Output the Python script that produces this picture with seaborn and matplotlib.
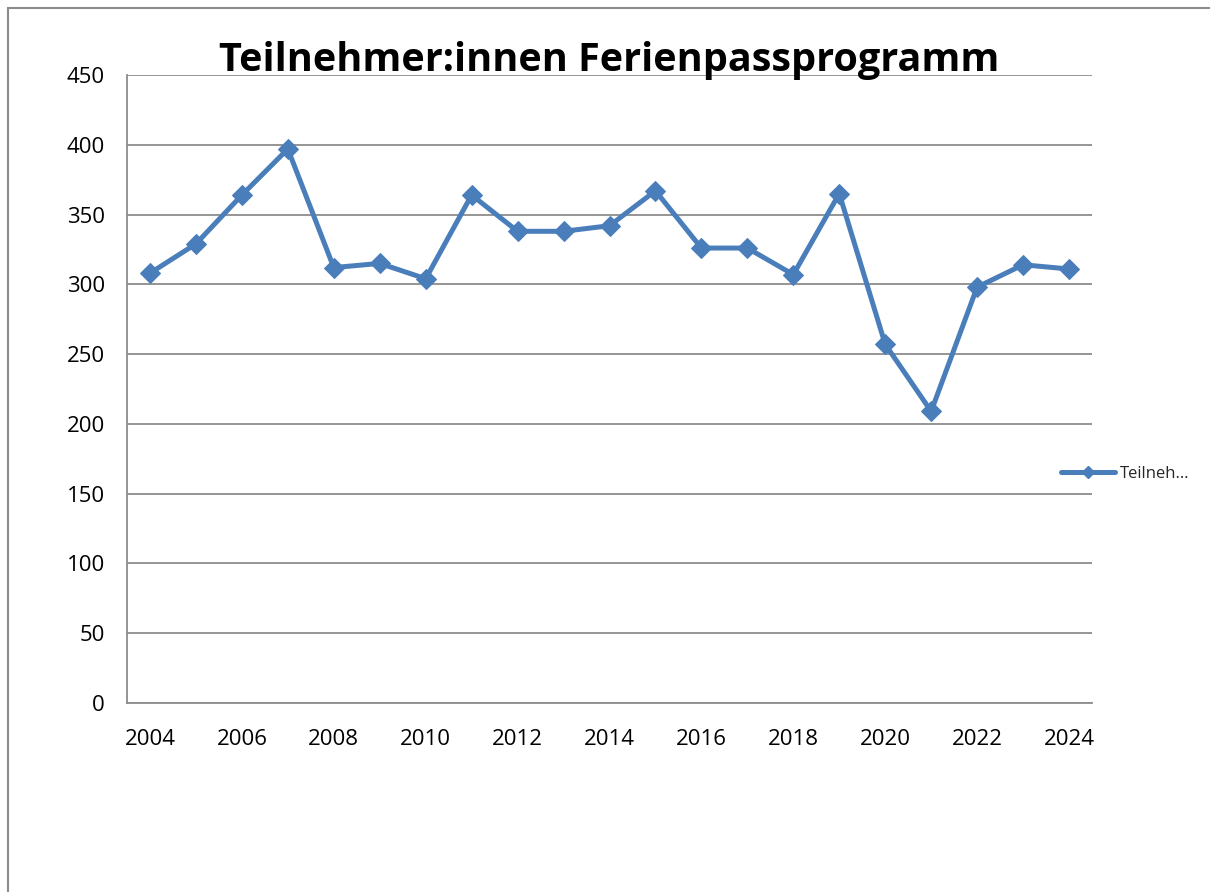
import matplotlib
matplotlib.use("Agg")
import matplotlib.pyplot as plt
import seaborn as sns
import pandas as pd
from matplotlib.lines import Line2D

years = list(range(2004, 2025))
participants = [308, 329, 364, 397, 312, 315, 304, 364, 338, 338, 342, 367,
                326, 326, 307, 365, 257, 209, 298, 314, 311]
series_name = "Teilnehmer:innen"
legend_label = "Teilneh…"
title = "Teilnehmer:innen Ferienpassprogramm"
x_ticks = list(range(2004, 2025, 2))
y_ticks = list(range(0, 451, 50))

df = pd.DataFrame({"Jahr": years, "Wert": participants})

sns.set_theme(style="white")
plt.rcParams["font.family"] = ["Open Sans", "DejaVu Sans"]

color = "#4A7EBB"
fig = plt.figure(figsize=(12.1, 8.92), dpi=100)
ax = fig.add_axes([127/1210, 1-703/892, (1092-127)/1210, (703-75)/892])

sns.lineplot(data=df, x="Jahr", y="Wert", ax=ax, color=color, linewidth=3.6,
             marker="D", markersize=10, markeredgecolor=color, legend=False)

ax.set_xlim(2003.5, 2024.5)
ax.set_ylim(0, 450)
ax.set_xticks(x_ticks)
ax.set_yticks(y_ticks)
ax.set_xlabel("")
ax.set_ylabel("")
ax.tick_params(axis="both", labelsize=16, colors="black", length=0)
ax.tick_params(axis="x", pad=19)
ax.tick_params(axis="y", pad=16)
ax.yaxis.grid(True, color="#8c8c8c", linewidth=1.3)
ax.xaxis.grid(False)
for s in ["top", "right"]:
    ax.spines[s].set_visible(False)
for s in ["left", "bottom"]:
    ax.spines[s].set_color("#8c8c8c")
    ax.spines[s].set_linewidth(1.3)
ax.set_axisbelow(True)

fig.text(609/1210, 1-60/892, title, ha="center", va="center",
         fontsize=28.5, fontweight="bold", color="black")

# outer chart frame (left and top edges visible)
fig.add_artist(Line2D([8/1210, 8/1210], [0, 1-8/892], transform=fig.transFigure,
                      color="#8c8c8c", linewidth=1.5))
fig.add_artist(Line2D([8/1210, 1], [1-8/892, 1-8/892], transform=fig.transFigure,
                      color="#8c8c8c", linewidth=1.5))

handle = Line2D([], [], color=color, linewidth=3.6, marker="D", markersize=6,
                markeredgecolor=color)
fig.legend([handle], [legend_label], loc="center left",
           bbox_to_anchor=(1053/1210, 1-474/892), frameon=False,
           fontsize=12, handlelength=3.2, handletextpad=0.3, borderpad=0)

fig.savefig("out.png", dpi=100)
